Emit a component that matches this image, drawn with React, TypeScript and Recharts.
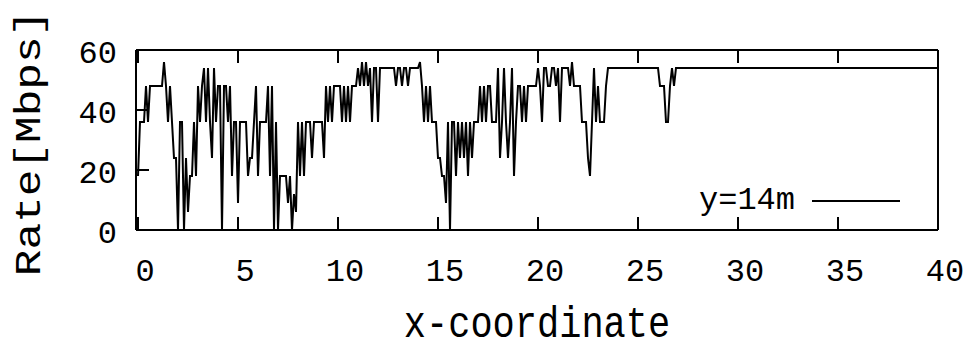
import React from "react"
import { LineChart, Line, XAxis, YAxis, Legend } from "recharts"

// rate samples every 0.1 m from x = 0 to x = 27.0
const STEP = 0.1
const sampledRates = [
  18, 36, 36, 36, 48, 36, 48, 48, 48, 48,
  48, 48, 48, 56, 48, 36, 48, 36, 24, 24,
  0, 36, 36, 0, 24, 6, 18, 18, 36, 18,
  48, 36, 48, 54, 36, 54, 36, 24, 54, 36,
  48, 48, 0, 48, 48, 36, 48, 18, 36, 36,
  9, 36, 36, 36, 36, 18, 24, 24, 36, 48,
  18, 36, 36, 36, 36, 48, 18, 48, 0, 36,
  0, 18, 18, 18, 18, 9, 18, 0, 12, 6,
  36, 18, 36, 18, 36, 36, 36, 24, 36, 36,
  36, 36, 36, 24, 48, 36, 48, 36, 48, 48,
  48, 48, 36, 48, 36, 48, 36, 48, 48, 48,
  54, 48, 56, 48, 56, 48, 54, 36, 54, 54,
  36, 54, 54, 54, 54, 54, 54, 54, 54, 48,
  54, 54, 48, 54, 54, 48, 54, 54, 54, 54,
  54, 56, 48, 36, 48, 36, 48, 36, 36, 36,
  24, 24, 18, 18, 9, 36, 0, 36, 36, 18,
  36, 24, 36, 24, 36, 18, 36, 24, 36, 36,
  36, 48, 36, 48, 36, 48, 48, 36, 36, 36,
  54, 24, 36, 54, 36, 24, 36, 54, 18, 36,
  48, 48, 36, 48, 36, 48, 48, 48, 48, 48,
  54, 48, 36, 54, 54, 48, 48, 54, 54, 48,
  54, 36, 54, 54, 54, 54, 48, 56, 48, 48,
  48, 48, 36, 36, 36, 24, 18, 36, 54, 36,
  48, 36, 36, 36, 48, 54, 54, 54, 54, 54,
  54, 54, 54, 54, 54, 54, 54, 54, 54, 54,
  54, 54, 54, 54, 54, 54, 54, 54, 54, 54,
  54, 48, 48, 48, 36, 36, 48, 54, 48, 54,
  54,
]
// after the last dip the rate stays flat up to the end of the track
const endX = 40
const endRate = 54

const xTicks = [0, 5, 10, 15, 20, 25, 30, 35, 40]
const yTicks = [0, 20, 40, 60]
const legendName = "y=14m"

const data = sampledRates
  .map((rate, i) => ({ x: Math.round(i * STEP * 10) / 10, rate }))
  .concat([{ x: endX, rate: endRate }])

const FONT = "'Liberation Mono', 'DejaVu Sans Mono', monospace"
const TICK_LEN = 13

function XTick(props: any) {
  const { x, y, payload } = props
  return (
    <g>
      <line x1={x} y1={y} x2={x} y2={y - TICK_LEN} stroke="#000" strokeWidth={2} />
      <text x={x + 7} y={y + 51} textAnchor="middle" fontFamily={FONT} fontSize={32} fill="#000">
        {payload.value}
      </text>
    </g>
  )
}

function YTick(props: any) {
  const { x, y, payload } = props
  return (
    <g>
      <line x1={x} y1={y} x2={x + TICK_LEN} y2={y} stroke="#000" strokeWidth={2} />
      <text x={x - 19} y={y + 13} textAnchor="end" fontFamily={FONT} fontSize={32} fill="#000">
        {payload.value}
      </text>
    </g>
  )
}

function XTitle(props: any) {
  const { x, y, width } = props.viewBox
  return (
    <text
      transform={`translate(${x + width / 2},${y + 107}) scale(1,1.2)`}
      textAnchor="middle"
      fontFamily={FONT}
      fontSize={37}
      fill="#000"
    >
      x-coordinate
    </text>
  )
}

function YTitle(props: any) {
  const { y, height } = props.viewBox
  return (
    <text
      transform={`translate(40,${y + height / 2 + 3}) scale(1,1.2) rotate(-90)`}
      textAnchor="middle"
      fontFamily={FONT}
      fontSize={37}
      fill="#000"
    >
      Rate[Mbps]
    </text>
  )
}

function LegendBox() {
  return (
    <div style={{ display: "flex", alignItems: "center", fontFamily: FONT, fontSize: 32, lineHeight: "32px", color: "#000" }}>
      <span>{legendName}</span>
      <span style={{ display: "inline-block", width: 88, borderTop: "2px solid #000", marginLeft: 17 }} />
    </div>
  )
}

export default function App() {
  return (
    <div style={{ position: "absolute", left: 0, top: 0, width: 969, height: 345, background: "#fff" }}>
      <LineChart width={969} height={345} data={data} margin={{ top: 50, right: 31, bottom: 85, left: 76 }}>
        <XAxis
          dataKey="x"
          type="number"
          domain={[-0.1, 40]}
          ticks={xTicks}
          interval={0}
          tickSize={0}
          tickMargin={0}
          tickLine={false}
          tick={<XTick />}
          axisLine={{ stroke: "#000", strokeWidth: 2 }}
          label={{ content: (p: any) => <XTitle {...p} /> }}
        />
        <XAxis
          xAxisId="top"
          orientation="top"
          mirror
          dataKey="x"
          type="number"
          domain={[-0.1, 40]}
          ticks={xTicks}
          interval={0}
          tickSize={TICK_LEN}
          tickLine={{ stroke: "#000", strokeWidth: 2 }}
          tick={() => <g />}
          axisLine={{ stroke: "#000", strokeWidth: 2 }}
        />
        <YAxis
          type="number"
          domain={[0, 60]}
          ticks={yTicks}
          interval={0}
          width={60}
          tickSize={0}
          tickMargin={0}
          tickLine={false}
          tick={<YTick />}
          axisLine={{ stroke: "#000", strokeWidth: 2 }}
          label={{ content: (p: any) => <YTitle {...p} /> }}
        />
        <YAxis
          yAxisId="right"
          orientation="right"
          mirror
          type="number"
          domain={[0, 60]}
          ticks={yTicks}
          interval={0}
          tickSize={TICK_LEN}
          tickLine={{ stroke: "#000", strokeWidth: 2 }}
          tick={() => <g />}
          axisLine={{ stroke: "#000", strokeWidth: 2 }}
        />
        <Legend
          layout="horizontal"
          verticalAlign="middle"
          align="center"
          content={() => <LegendBox />}
          wrapperStyle={{ left: 699, top: 185, width: "auto" }}
        />
        <Line
          dataKey="rate"
          name={legendName}
          type="linear"
          stroke="#000"
          strokeWidth={2}
          dot={false}
          isAnimationActive={false}
        />
      </LineChart>
    </div>
  )
}
